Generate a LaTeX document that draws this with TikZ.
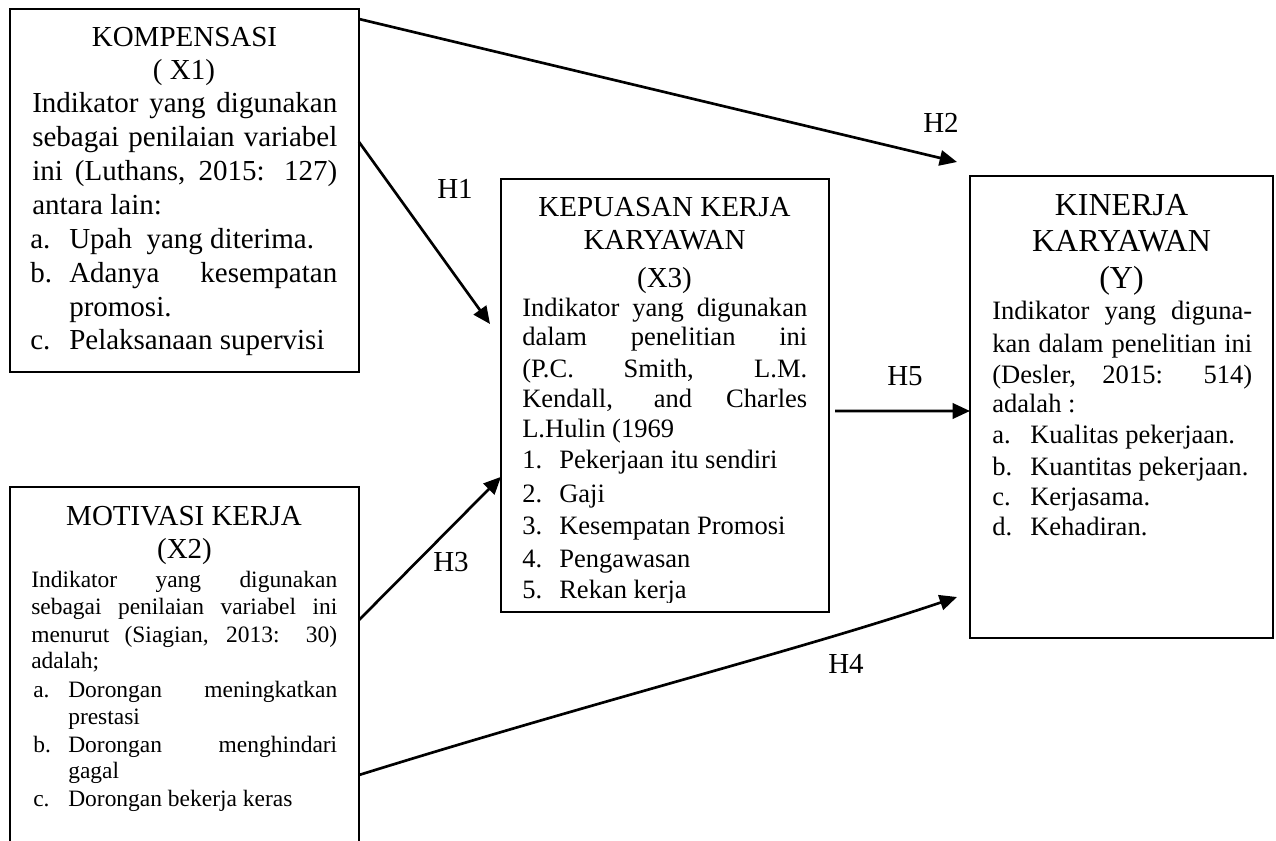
\documentclass[tikz,border=0pt]{standalone}
\usepackage{fontspec}
\setmainfont{Liberation Serif}
\usetikzlibrary{arrows.meta}
\newcommand\fT{\fontsize{21.75pt}{26pt}\selectfont}
\newcommand\fYt{\fontsize{24pt}{28pt}\selectfont}
\newcommand\fA{\fontsize{21.75pt}{26pt}\selectfont}
\newcommand\fB{\fontsize{17.6pt}{21pt}\selectfont}
\newcommand\fC{\fontsize{19.9pt}{24pt}\selectfont}
\newcommand\jl[2]{\makebox[#1][s]{#2}}
\begin{document}
\begin{tikzpicture}[x=0.75pt,y=-0.75pt,
  box/.style={draw, line width=1.7pt, inner sep=0pt, outer sep=0pt},
  ln/.style={inner sep=0pt, anchor=base west},
  ctr/.style={inner sep=0pt, anchor=base},
  arr/.style={-{Triangle[length=13pt,width=11.5pt]}, line width=2pt},
  hl/.style={inner sep=0pt, anchor=base, font=\fT}]
\useasboundingbox (0,0) rectangle (1276,841);
\fill[white] (0,0) rectangle (1276,841);

% boxes
\node[box, minimum width=261.75pt, minimum height=272.25pt] (x1) at (184.5,190.5) {};
\node[box, minimum width=261.75pt, minimum height=309.75pt] (x2) at (184.5,693.5) {};
\node[box, minimum width=246pt, minimum height=324.75pt] (x3) at (665,395.5) {};
\node[box, minimum width=227.25pt, minimum height=346.5pt] (y) at (1121.5,407) {};

% X1
\node[ctr,font=\fT] (x1t1) at (184.5,47) {KOMPENSASI};
\node[ctr,font=\fT] (x1t2) at (184,80) {( X1)};
\node[ln,font=\fA] (x1a) at (32,113) {\jl{228.75pt}{Indikator yang digunakan}};
\node[ln,font=\fA] (x1b) at (32,147) {\jl{228.75pt}{sebagai penilaian variabel}};
\node[ln,font=\fA] (x1c) at (32,181) {\jl{228.75pt}{ini (Luthans, 2015: 127)}};
\node[ln,font=\fA] (x1d) at (32,215) {antara lain:};
\node[ln,font=\fA] (x1ia) at (30,249) {a.};
\node[ln,font=\fA] (x1ta) at (69,249) {Upah\ \ yang diterima.};
\node[ln,font=\fA] (x1ib) at (30,283) {b.};
\node[ln,font=\fA] (x1tb) at (69,283) {\jl{201pt}{Adanya kesempatan}};
\node[ln,font=\fA] (x1tb2) at (69,316) {promosi.};
\node[ln,font=\fA] (x1ic) at (30,349) {c.};
\node[ln,font=\fA] (x1tc) at (69,349) {Pelaksanaan supervisi};

% X2
\node[ctr,font=\fT] (x2t1) at (184,525) {MOTIVASI KERJA};
\node[ctr,font=\fT] (x2t2) at (184.5,558) {(X2)};
\node[ln,font=\fB] (x2a) at (31,587) {\jl{229.5pt}{Indikator yang digunakan}};
\node[ln,font=\fB] (x2b) at (31,614) {\jl{229.5pt}{sebagai penilaian variabel ini}};
\node[ln,font=\fB] (x2c) at (31,642) {\jl{229.5pt}{menurut (Siagian, 2013: 30)}};
\node[ln,font=\fB] (x2d) at (31,668) {adalah;};
\node[ln,font=\fB] (x2ia) at (33,697) {a.};
\node[ln,font=\fB] (x2ta) at (68,697) {\jl{201.75pt}{Dorongan meningkatkan}};
\node[ln,font=\fB] (x2ta2) at (68,724) {prestasi};
\node[ln,font=\fB] (x2ib) at (33,752) {b.};
\node[ln,font=\fB] (x2tb) at (68,752) {\jl{201.75pt}{Dorongan menghindari}};
\node[ln,font=\fB] (x2tb2) at (68,778) {gagal};
\node[ln,font=\fB] (x2ic) at (33,806) {c.};
\node[ln,font=\fB] (x2tc) at (68,806) {Dorongan bekerja keras};

% X3
\node[ctr,font=\fT] (x3t1) at (664.5,217) {KEPUASAN KERJA};
\node[ctr,font=\fT] (x3t2) at (664.5,250) {KARYAWAN};
\node[ctr,font=\fT] (x3t3) at (664.5,287) {(X3)};
\node[ln,font=\fC] (x3a) at (522,316) {\jl{213.75pt}{Indikator yang digunakan}};
\node[ln,font=\fC] (x3b) at (522,345) {\jl{213.75pt}{dalam penelitian ini}};
\node[ln,font=\fC] (x3c) at (522,377) {\jl{213.75pt}{(P.C. Smith, L.M.}};
\node[ln,font=\fC] (x3d) at (522,407) {\jl{213.75pt}{Kendall, and Charles}};
\node[ln,font=\fC] (x3e) at (522,437) {L.Hulin (1969};
\node[ln,font=\fC] (x3i1) at (522,468) {1.};
\node[ln,font=\fC] (x3n1) at (559,468) {Pekerjaan itu sendiri};
\node[ln,font=\fC] (x3i2) at (522,502) {2.};
\node[ln,font=\fC] (x3n2) at (559,502) {Gaji};
\node[ln,font=\fC] (x3i3) at (522,534) {3.};
\node[ln,font=\fC] (x3n3) at (559,534) {Kesempatan Promosi};
\node[ln,font=\fC] (x3i4) at (522,567) {4.};
\node[ln,font=\fC] (x3n4) at (559,567) {Pengawasan};
\begin{scope}
\clip (505,570) rectangle (825,602);
\node[ln,font=\fC] (x3i5) at (522,598) {5.};
\node[ln,font=\fC] (x3n5) at (559,598) {Rekan kerja};
\end{scope}

% Y
\node[ctr,font=\fYt] (yt1) at (1121.5,216) {KINERJA};
\node[ctr,font=\fYt] (yt2) at (1121.5,252) {KARYAWAN};
\node[ctr,font=\fYt] (yt3) at (1121.5,288) {(Y)};
\node[ln,font=\fC] (ya) at (992,320) {\jl{195pt}{Indikator yang diguna-}};
\node[ln,font=\fC] (yb) at (992,352) {\jl{195pt}{kan dalam penelitian ini}};
\node[ln,font=\fC] (yc) at (992,383) {\jl{195pt}{(Desler, 2015: 514)}};
\node[ln,font=\fC] (yd) at (992,412) {adalah :};
\node[ln,font=\fC] (yia) at (992,443) {a.};
\node[ln,font=\fC] (yta) at (1030,443) {Kualitas pekerjaan.};
\node[ln,font=\fC] (yib) at (992,475) {b.};
\node[ln,font=\fC] (ytb) at (1030,475) {Kuantitas pekerjaan.};
\node[ln,font=\fC] (yic) at (992,505) {c.};
\node[ln,font=\fC] (ytc) at (1030,505) {Kerjasama.};
\node[ln,font=\fC] (yid) at (992,535) {d.};
\node[ln,font=\fC] (ytd) at (1030,535) {Kehadiran.};

% arrow free ends
\coordinate (h1e) at (490,324);
\coordinate (h2e) at (957,162);
\coordinate (h4e) at (957,597);

% connectors
\draw[arr] ([yshift=-7.5pt]x1.north east) -- (h2e);
\draw[arr] ([yshift=-99.75pt]x1.north east) -- (h1e);
\draw[arr] ([yshift=-99.75pt]x2.north east) -- ([yshift=-61pt]x3.west);
\draw[arr] ([yshift=-216pt]x2.north east) .. controls (600,700) and (800,650) .. (h4e);
\draw[arr] ([xshift=4.5pt,yshift=-11.6pt]x3.east) -- ([yshift=-3pt]y.west);

% labels
\node[hl] (lh1) at (455,199) {H1};
\node[hl] (lh2) at (941,133) {H2};
\node[hl] (lh3) at (451,571) {H3};
\node[hl] (lh4) at (846,673) {H4};
\node[hl] (lh5) at (905,385) {H5};
\end{tikzpicture}
\end{document}
